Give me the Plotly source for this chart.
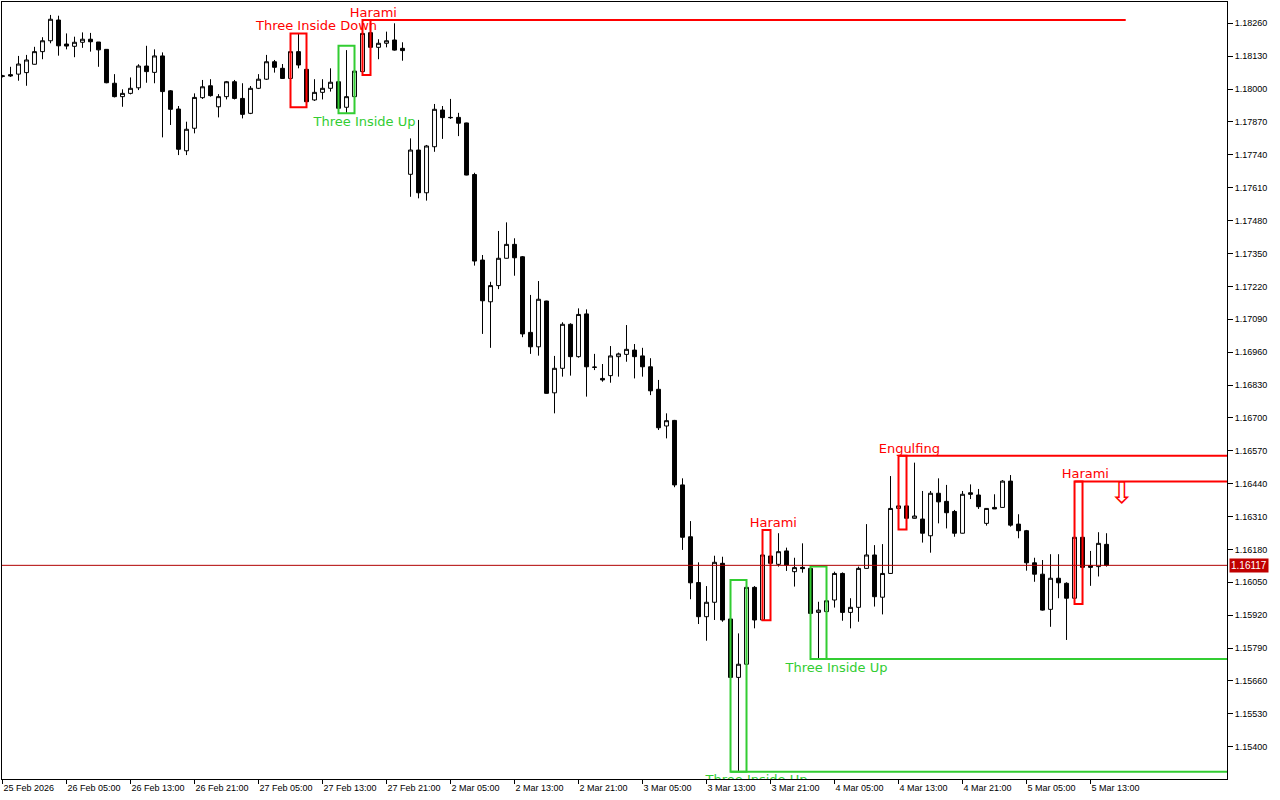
import plotly.graph_objects as go

# ---- data (hourly EURUSD-like bars, index 0 = 25 Feb 21:00) ----
opens = [1.18050,1.18057,1.18059,1.18065,1.18098,1.18148,1.18191,1.18273,1.18178,1.18169,
1.18185,1.18197,1.18186,1.18157,1.18023,1.17970,1.17983,1.18005,1.18091,1.18066,
1.18131,1.17993,1.17921,1.17756,1.17845,1.17966,1.18013,1.17930,1.17970,1.18029,
1.17963,1.17904,1.18003,1.18039,1.18108,1.18082,1.18042,1.18148,1.18078,1.17957,
1.17987,1.18003,1.18029,1.17928,1.17970,1.18069,1.18223,1.18165,1.18181,1.18194,
1.18161,1.17663,1.17759,1.17590,1.17772,1.17917,1.17888,1.17888,1.17866,1.17662,
1.17324,1.17159,1.17223,1.17331,1.17386,1.17337,1.17038,1.16981,1.17162,1.16799,
1.16896,1.17070,1.16942,1.17111,1.16901,1.16856,1.16867,1.16942,1.16951,1.16968,
1.16945,1.16902,1.16813,1.16668,1.16690,1.16435,1.16230,1.16049,1.15914,1.15971,
1.16125,1.15905,1.15674,1.15726,1.16030,1.15901,1.16154,1.16121,1.16174,1.16092,
1.16109,1.16105,1.15931,1.15934,1.15980,1.16085,1.15931,1.15951,1.16105,1.16158,
1.15991,1.16085,1.16342,1.16352,1.16303,1.16300,1.16234,1.16402,1.16370,1.16330,
1.16244,1.16404,1.16395,1.16283,1.16346,1.16346,1.16450,1.16280,1.16254,1.16127,
1.16082,1.15943,1.16066,1.16046,1.15987,1.16228,1.16116,1.16112,1.16200]
highs = [1.18056,1.18088,1.18131,1.18135,1.18167,1.18205,1.18293,1.18290,1.18220,1.18207,
1.18224,1.18222,1.18186,1.18158,1.18059,1.17999,1.18046,1.18098,1.18171,1.18157,
1.18145,1.17996,1.17933,1.17871,1.17983,1.18036,1.18039,1.17980,1.18032,1.18036,
1.18023,1.18012,1.18059,1.18135,1.18115,1.18099,1.18194,1.18220,1.18115,1.18039,
1.18039,1.18082,1.18065,1.18154,1.18171,1.18223,1.18273,1.18197,1.18227,1.18260,
1.18185,1.17805,1.17878,1.17779,1.17941,1.17933,1.17961,1.17906,1.17867,1.17669,
1.17344,1.17238,1.17439,1.17473,1.17410,1.17340,1.17186,1.17241,1.17163,1.16945,
1.17078,1.17074,1.17133,1.17129,1.16953,1.16913,1.16984,1.16958,1.17067,1.16992,
1.16977,1.16936,1.16850,1.16718,1.16692,1.16461,1.16292,1.16129,1.16035,1.16155,
1.16151,1.15997,1.15848,1.16059,1.16035,1.16220,1.16257,1.16244,1.16187,1.16147,
1.16204,1.16112,1.15973,1.15980,1.16092,1.16089,1.15987,1.16112,1.16280,1.16197,
1.16201,1.16470,1.16550,1.16487,1.16523,1.16411,1.16411,1.16461,1.16435,1.16336,
1.16411,1.16437,1.16419,1.16343,1.16398,1.16454,1.16474,1.16319,1.16257,1.16147,
1.16138,1.16161,1.16161,1.16050,1.16448,1.16316,1.16174,1.16248,1.16244]
lows = [1.18046,1.18048,1.18033,1.18013,1.18097,1.18118,1.18181,1.18132,1.18157,1.18126,
1.18163,1.18148,1.18088,1.18023,1.17967,1.17930,1.17979,1.17996,1.18025,1.18023,
1.17809,1.17858,1.17739,1.17739,1.17825,1.17961,1.17970,1.17888,1.17959,1.17959,
1.17884,1.17901,1.18000,1.18036,1.18065,1.18040,1.17970,1.18082,1.17928,1.17953,
1.17959,1.17990,1.17904,1.17906,1.17967,1.18056,1.18161,1.18118,1.18165,1.18152,
1.18112,1.17574,1.17568,1.17559,1.17752,1.17803,1.17882,1.17814,1.17659,1.17302,
1.17032,1.16977,1.17209,1.17330,1.17262,1.17019,1.16953,1.16946,1.16796,1.16718,
1.16863,1.16867,1.16938,1.16784,1.16889,1.16843,1.16839,1.16863,1.16922,1.16856,
1.16863,1.16790,1.16652,1.16619,1.16426,1.16178,1.15983,1.15885,1.15819,1.15901,
1.15894,1.15644,1.15301,1.15690,1.15868,1.15900,1.16116,1.16112,1.16095,1.16033,
1.16088,1.15901,1.15747,1.15932,1.15950,1.15898,1.15868,1.15894,1.16104,1.15954,
1.15923,1.16084,1.16340,1.16259,1.16302,1.16207,1.16167,1.16283,1.16263,1.16230,
1.16243,1.16379,1.16340,1.16274,1.16340,1.16345,1.16270,1.16224,1.16096,1.16052,
1.15938,1.15874,1.15987,1.15822,1.15980,1.15964,1.16036,1.16073,1.16112]
closes = [1.18052,1.18052,1.18099,1.18115,1.18148,1.18191,1.18276,1.18171,1.18170,1.18185,
1.18197,1.18187,1.18155,1.18025,1.17970,1.17983,1.18003,1.18091,1.18069,1.18131,
1.17990,1.17920,1.17762,1.17841,1.17967,1.18009,1.17974,1.17970,1.18029,1.17963,
1.17900,1.18003,1.18039,1.18108,1.18086,1.18042,1.18148,1.18095,1.17950,1.17987,
1.18003,1.18027,1.17924,1.17970,1.18071,1.18220,1.18165,1.18181,1.18191,1.18154,
1.18152,1.17759,1.17590,1.17775,1.17920,1.17887,1.17887,1.17865,1.17660,1.17320,
1.17163,1.17223,1.17331,1.17386,1.17333,1.17032,1.16981,1.17169,1.16797,1.16896,
1.17070,1.16942,1.17109,1.16902,1.16900,1.16850,1.16945,1.16953,1.16971,1.16942,
1.16902,1.16807,1.16661,1.16689,1.16435,1.16228,1.16048,1.15914,1.15971,1.16129,
1.15901,1.15674,1.15726,1.16030,1.15901,1.16158,1.16125,1.16171,1.16118,1.16108,
1.16104,1.15927,1.15940,1.15977,1.16085,1.15931,1.15951,1.16105,1.16158,1.15993,
1.16085,1.16342,1.16352,1.16303,1.16312,1.16244,1.16402,1.16368,1.16325,1.16244,
1.16398,1.16398,1.16349,1.16342,1.16340,1.16450,1.16276,1.16254,1.16127,1.16082,
1.15940,1.16066,1.16048,1.15987,1.16228,1.16109,1.16109,1.16204,1.16117]

tick_bars = [0, 8, 16, 24, 32, 40, 48, 56, 64, 72, 80, 88, 96, 104, 112, 120, 128, 136]
tick_labels = ["25 Feb 2026", "26 Feb 05:00", "26 Feb 13:00", "26 Feb 21:00", "27 Feb 05:00",
               "27 Feb 13:00", "27 Feb 21:00", "2 Mar 05:00", "2 Mar 13:00", "2 Mar 21:00",
               "3 Mar 05:00", "3 Mar 13:00", "3 Mar 21:00", "4 Mar 05:00", "4 Mar 13:00",
               "4 Mar 21:00", "5 Mar 05:00", "5 Mar 13:00"]

# candlestick patterns found on the chart
pattern_names = ["Three Inside Down", "Three Inside Up", "Harami", "Three Inside Up",
                 "Harami", "Three Inside Up", "Engulfing", "Harami"]
pattern_start = [36, 42, 45, 91, 95, 101, 112, 134]
pattern_end = [38, 44, 46, 93, 96, 103, 113, 135]
pattern_bullish = [False, True, False, True, False, True, False, False]
pattern_level = [False, False, True, True, False, True, True, True]   # level still active
level_end_bar = [None, None, 140.4, None, None, None, None, None]    # None = to chart edge

signal_bar = 139.9
signal_price = 1.16395

X_MIN, X_MAX = -0.0625, 153.06
Y_MIN, Y_MAX = 1.152723, 1.183442

RED = "#ff0000"
GREEN = "#32cd32"

PLOT_H = 800 - 2 - 21
px_price = (Y_MAX - Y_MIN) / PLOT_H   # price per pixel

bars = list(range(len(opens)))

fig = go.Figure()
fig.add_trace(go.Candlestick(
    x=bars, open=opens, high=highs, low=lows, close=closes,
    increasing=dict(line=dict(color="black", width=1), fillcolor="white"),
    decreasing=dict(line=dict(color="black", width=1), fillcolor="black"),
    whiskerwidth=0, hoverinfo="skip", showlegend=False,
))

shapes = []
lab = {True: dict(x=[], y=[], t=[]), False: dict(x=[], y=[], t=[])}
for name, s, e, bull, lvl, lend in zip(pattern_names, pattern_start, pattern_end,
                                         pattern_bullish, pattern_level, level_end_bar):
    top = max(highs[s:e + 1])
    bot = min(lows[s:e + 1])
    col = GREEN if bull else RED
    shapes.append(dict(type="rect", xref="x", yref="y", x0=s, x1=e, y0=bot, y1=top,
                       line=dict(color=col, width=2), fillcolor="rgba(0,0,0,0)", layer="above"))
    if lvl:
        yl = bot if bull else top
        shapes.append(dict(type="line", xref="x", yref="y", x0=s,
                           x1=(lend if lend is not None else X_MAX + 1), y0=yl, y1=yl,
                           line=dict(color=col, width=2), layer="above"))
    shift = 2.25 if (e - s) == 2 else 0.85
    lab[bull]["x"].append((s + e) / 2 + shift)
    lab[bull]["y"].append(bot - 3 * px_price if bull else top)
    lab[bull]["t"].append(name)

# current price line
shapes.append(dict(type="line", xref="paper", yref="y", x0=0, x1=1,
                   y0=closes[-1], y1=closes[-1], line=dict(color="#b00000", width=1)))

fig.add_trace(go.Scatter(x=lab[False]["x"], y=lab[False]["y"], text=lab[False]["t"],
                         mode="text", textposition="top center", cliponaxis=True,
                         textfont=dict(family="DejaVu Sans", size=13, color=RED),
                         hoverinfo="skip", showlegend=False))
fig.add_trace(go.Scatter(x=lab[True]["x"], y=lab[True]["y"], text=lab[True]["t"],
                         mode="text", textposition="bottom center", cliponaxis=True,
                         textfont=dict(family="DejaVu Sans", size=13, color=GREEN),
                         hoverinfo="skip", showlegend=False))
# sell signal arrow
fig.add_trace(go.Scatter(x=[signal_bar], y=[signal_price], text=["⇩"], mode="text",
                         textposition="middle center",
                         textfont=dict(family="DejaVu Sans", size=30, color=RED),
                         hoverinfo="skip", showlegend=False))

fig.add_annotation(xref="paper", yref="y", x=1, y=closes[-1], xanchor="left", yanchor="middle",
                   xshift=2, text=f"{closes[-1]:.5f}", showarrow=False,
                   bgcolor="#c00000", borderpad=1,
                   font=dict(family="Liberation Sans", size=10, color="white"))

fig.update_layout(
    width=1280, height=800,
    margin=dict(l=2, r=53, t=2, b=21),
    paper_bgcolor="white", plot_bgcolor="white",
    shapes=shapes, showlegend=False, hovermode=False,
    font=dict(family="Liberation Sans", size=9, color="black"),
)
fig.update_xaxes(range=[X_MIN, X_MAX], rangeslider=dict(visible=False),
                 tickmode="array", tickvals=tick_bars, ticktext=tick_labels,
                 ticks="outside", ticklen=4, tickcolor="black",
                 ticklabelposition="outside right",
                 showgrid=False, zeroline=False, showline=True, mirror=True,
                 linecolor="black", linewidth=1,
                 tickfont=dict(family="Liberation Sans", size=9, color="black"))
fig.update_yaxes(range=[Y_MIN, Y_MAX], side="right", tick0=1.154, dtick=0.0013,
                 tickformat=".5f", ticks="outside", ticklen=5, tickcolor="black",
                 showgrid=False, zeroline=False, showline=True, mirror=True,
                 linecolor="black", linewidth=1,
                 tickfont=dict(family="Liberation Sans", size=9, color="black"))

fig.write_html("out.html", config={"displayModeBar": False})

# remove the default page margin so the figure fills the 1280x800 window
with open("out.html", "r", encoding="utf-8") as fh:
    html = fh.read()
html = html.replace("<body>", '<body style="margin:0;padding:0;overflow:hidden">', 1)
with open("out.html", "w", encoding="utf-8") as fh:
    fh.write(html)
